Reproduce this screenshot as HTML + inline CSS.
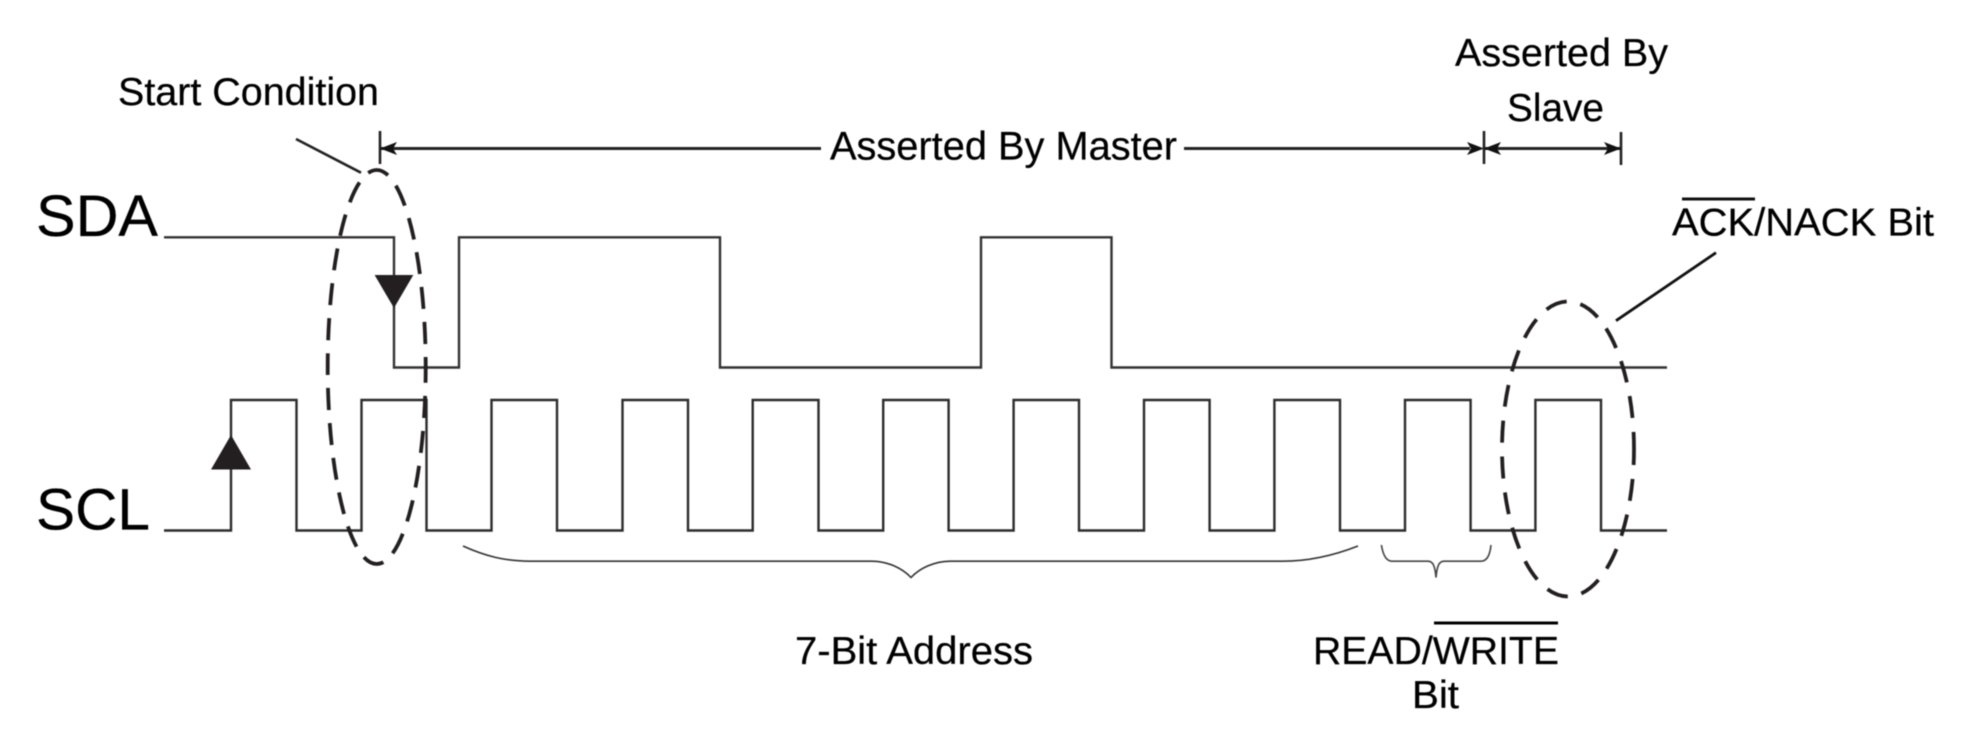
<!DOCTYPE html>
<html>
<head>
<meta charset="utf-8">
<style>
html,body{margin:0;padding:0;background:#fff;width:1972px;height:732px;overflow:hidden}
svg{display:block;filter:blur(0.45px)}
text{font-family:"Liberation Sans",Arial,sans-serif;fill:#000;stroke:#000;stroke-width:0.25px}
</style>
</head>
<body>
<svg width="1972" height="732" viewBox="0 0 1972 732" xmlns="http://www.w3.org/2000/svg">
<rect width="1972" height="732" fill="#fff"/>

<!-- SDA -->
<path d="M164 237.3H394V367.5H459V237.3H720V367.5H981V237.3H1111.5V367.5H1667" fill="none" stroke="#333" stroke-width="2.4"/>

<!-- SCL -->
<path d="M164 530.5H231V400H296.5V530.5H361.5V400H426.5V530.5H491.5V400H557V530.5H622.5V400H688V530.5H752.7V400H818.5V530.5H883.2V400H948.6V530.5H1013.6V400H1079V530.5H1144V400H1209.6V530.5H1274.4V400H1340V530.5H1405V400H1470.6V530.5H1535.4V400H1601V530.5H1667" fill="none" stroke="#2c2c2c" stroke-width="2.4"/>

<!-- Triangles -->
<polygon points="374.6,275 413.3,275 394,308" fill="#231f20"/>
<polygon points="231,435 251,469.5 211,469.5" fill="#231f20"/>

<!-- Dashed ellipses -->
<ellipse cx="376.7" cy="367" rx="49" ry="197" fill="none" stroke="#231f20" stroke-width="3.8" stroke-dasharray="22 13" stroke-dashoffset="6"/>
<ellipse cx="1568" cy="449" rx="66" ry="147.5" fill="none" stroke="#231f20" stroke-width="3.8" stroke-dasharray="22 14" stroke-dashoffset="6"/>

<!-- Leader lines -->
<line x1="296" y1="139" x2="361" y2="172.7" stroke="#222" stroke-width="2.6"/>
<line x1="1716" y1="252.7" x2="1616" y2="320.7" stroke="#111" stroke-width="2.8"/>

<!-- Dimension lines -->
<g stroke="#222" fill="none">
<line x1="380" y1="148.5" x2="821" y2="148.5" stroke-width="3"/>
<line x1="1184" y1="148.5" x2="1470" y2="148.5" stroke-width="3"/>
<line x1="1484" y1="148.5" x2="1621" y2="148.5" stroke-width="3"/>
<line x1="380" y1="131" x2="380" y2="164" stroke-width="2.6"/>
<line x1="1484" y1="131" x2="1484" y2="164" stroke-width="2.6"/>
<line x1="1621" y1="132" x2="1621" y2="165" stroke-width="2.6"/>
</g>
<g fill="#111">
<polygon points="380,148.5 397,142 393,148.5 397,155"/>
<polygon points="1484,148.5 1467,142 1471,148.5 1467,155"/>
<polygon points="1484,148.5 1501,142 1497,148.5 1501,155"/>
<polygon points="1621,148.5 1604,142 1608,148.5 1604,155"/>
</g>

<!-- Braces -->
<path d="M463 546C485 556 505 561.2 530 561.2H872C888 561.5 902 568 911 577.5C920 568 934 561.5 950 561.2H1283C1310 561.2 1335 555 1358 546" fill="none" stroke="#333" stroke-width="1.6"/>
<path d="M1381.4 545C1383 555 1386 561.2 1392 561.2H1428C1433 561.2 1435 566 1436 577.5C1437 566 1439 561.2 1444 561.2H1481C1487 561.2 1490 555 1491 545" fill="none" stroke="#444" stroke-width="1.6"/>

<!-- Overlines -->
<rect x="1682" y="197.5" width="73" height="3" fill="#111"/>
<rect x="1434" y="621.5" width="124" height="3" fill="#000"/>

<!-- Labels -->
<text x="36" y="236" font-size="58" textLength="122" lengthAdjust="spacingAndGlyphs">SDA</text>
<text x="36" y="529.5" font-size="58" textLength="114" lengthAdjust="spacingAndGlyphs">SCL</text>
<text x="118" y="105" font-size="39" textLength="261" lengthAdjust="spacingAndGlyphs">Start Condition</text>
<text x="830" y="159.5" font-size="39.5" textLength="347" lengthAdjust="spacingAndGlyphs">Asserted By Master</text>
<text x="1455" y="66" font-size="39.3" textLength="213" lengthAdjust="spacingAndGlyphs">Asserted By</text>
<text x="1507" y="121" font-size="39" textLength="97" lengthAdjust="spacingAndGlyphs">Slave</text>
<text x="1672" y="235.5" font-size="39" textLength="262" lengthAdjust="spacingAndGlyphs">ACK/NACK Bit</text>
<text x="795" y="664" font-size="39" textLength="238" lengthAdjust="spacingAndGlyphs">7-Bit Address</text>
<text x="1313" y="664" font-size="39" textLength="246" lengthAdjust="spacingAndGlyphs">READ/WRITE</text>
<text x="1412" y="708" font-size="39" textLength="47" lengthAdjust="spacingAndGlyphs">Bit</text>
</svg>
</body>
</html>
